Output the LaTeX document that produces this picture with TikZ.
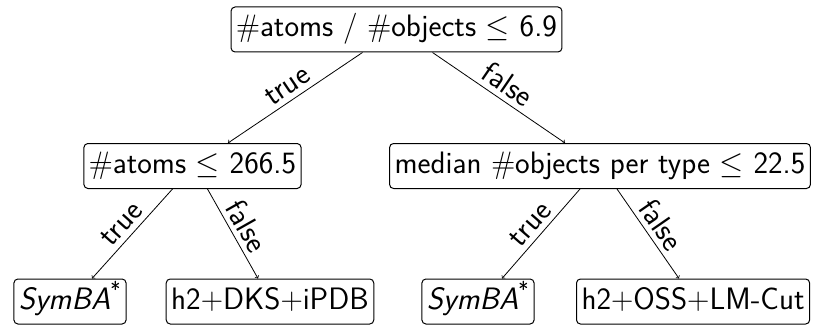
\RequirePackage{fix-cm}
\documentclass[tikz,border=0pt]{standalone}
\usepackage{fontspec}
\usetikzlibrary{calc}
\begin{document}
\begin{tikzpicture}[x=1pt,y=-1pt,
  box/.style={draw, rounded corners=4pt, line width=1pt, inner xsep=5pt, inner ysep=0pt,
    minimum height=45pt, text height=22pt, text depth=7pt,
    font=\sffamily\fontsize{31}{36}\selectfont},
  lbl/.style={sloped, above, midway, inner sep=5pt, font=\sffamily\fontsize{31}{36}\selectfont},
  arr/.style={->, line width=0.8pt}]
\useasboundingbox (0,0) rectangle (813,326);
\node[box] (root) at (396.5,29.5) {$\#$atoms / $\#$objects $\leq$ 6.9};
\node[box] (L) at (192.5,166) {$\#$atoms $\leq$ 266.5};
\node[box] (R) at (600,166) {median $\#$objects per type $\leq$ 22.5};
\node[box] (LL) at (70,301.5) {\textit{SymBA}\textsuperscript{*}};
\node[box] (LR) at (270,301.5) {h2$+$DKS$+$iPDB};
\node[box] (RL) at (478,301.5) {\textit{SymBA}\textsuperscript{*}};
\node[box, anchor=west] (RR) at (576,301.5) {h2$+$OSS$+$LM-Cut};
\draw[arr] ($(root.south)+(-34,0)$) -- node[lbl]{true} ($(L.north)+(35.5,0)$);
\draw[arr] ($(root.south)+(36,0)$) -- node[lbl]{false} ($(R.north)+(-35,0)$);
\draw[arr] ($(L.south)+(-20,0)$) -- node[lbl]{true} ($(LL.north)+(22,0)$);
\draw[arr] ($(L.south)+(15,0)$) -- node[lbl]{false} ($(LR.north)+(-12,0)$);
\draw[arr] ($(R.south)+(-20,0)$) -- node[lbl]{true} ($(RL.north)+(24,0)$);
\draw[arr] ($(R.south)+(17,0)$) -- node[lbl]{false} ($(RR.north west)+(103,0)$);
\end{tikzpicture}
\end{document}
